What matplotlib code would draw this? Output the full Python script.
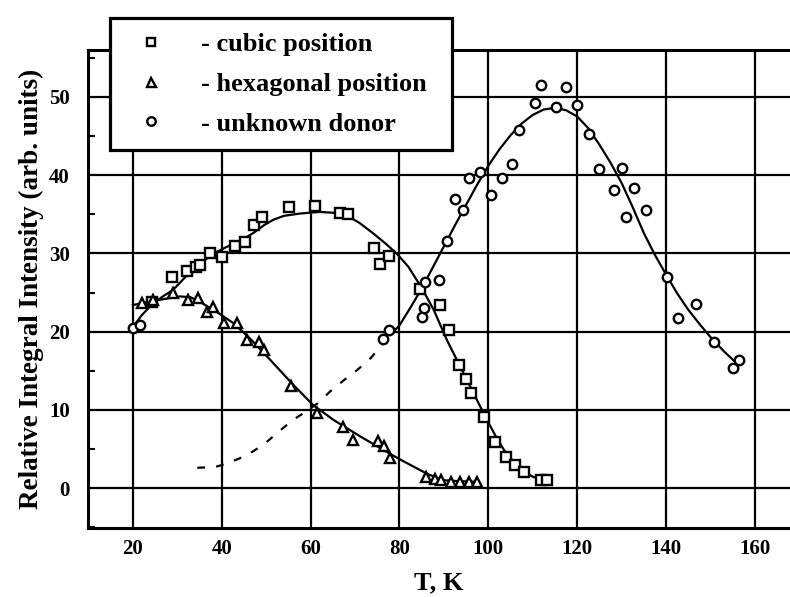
import matplotlib
matplotlib.use("Agg")
import matplotlib.pyplot as plt
from matplotlib.ticker import MultipleLocator

plt.rcParams['font.family'] = ['Liberation Serif', 'DejaVu Serif']
plt.rcParams['font.weight'] = 'bold'

# ---- data ----
cubic_T = [24.2, 28.7, 32.1, 34.2, 35.1, 37.4, 40.0, 43.0, 45.3, 47.3, 49.0, 55.2, 61.0, 66.7, 68.5,
           74.2, 75.7, 77.6, 84.7, 89.2, 91.1, 93.3, 94.9, 96.0, 99.0, 101.6, 103.9, 106.1, 108.0,
           111.8, 113.3]
cubic_I = [23.8, 27.0, 27.7, 28.2, 28.5, 30.1, 29.5, 30.9, 31.5, 33.6, 34.6, 35.9, 36.1, 35.2, 35.0,
           30.7, 28.6, 29.7, 25.5, 23.4, 20.2, 15.7, 13.9, 12.1, 9.1, 5.9, 4.0, 2.9, 2.1,
           1.0, 1.0]

hex_T = [22.0, 24.6, 29.1, 32.5, 34.7, 36.6, 38.1, 40.4, 43.4, 45.6, 48.3, 49.4, 55.6, 61.4, 67.4,
         69.5, 75.1, 76.6, 77.8, 86.0, 87.9, 89.4, 91.5, 93.7, 95.6, 97.5]
hex_I = [23.6, 24.0, 24.9, 24.0, 24.3, 22.5, 23.2, 21.1, 21.1, 18.9, 18.7, 17.6, 13.0, 9.6, 7.8,
         6.1, 6.0, 5.4, 3.9, 1.4, 1.2, 1.0, 0.8, 0.8, 0.8, 0.8]

donor_T = [20.0, 21.6, 76.2, 77.6, 85.1, 85.5, 85.8, 88.8, 90.7, 92.6, 94.4, 95.6, 98.2, 100.5,
           103.1, 105.4, 106.9, 110.6, 111.8, 115.2, 117.4, 120.0, 122.7, 124.9, 128.3, 130.2,
           130.9, 132.8, 135.4, 140.3, 142.6, 146.7, 150.8, 155.0, 156.5]
donor_I = [20.5, 20.8, 19.1, 20.2, 21.9, 23.0, 26.4, 26.6, 31.6, 37.0, 35.5, 39.6, 40.4, 37.5,
           39.7, 41.4, 45.8, 49.2, 51.5, 48.7, 51.3, 49.0, 45.3, 40.8, 38.1, 40.9,
           34.7, 38.3, 35.6, 27.0, 21.8, 23.5, 18.7, 15.3, 16.4]

# fitted curves
cubic_fit_T = [20, 22, 24.5, 27, 29, 31.5, 34.3, 36.5, 38.9, 41, 43, 45, 47.1, 49.5, 51.6, 54, 57.7,
               62, 65, 68, 71, 74, 77, 79.5, 82, 85, 87.7, 90.7, 93.7, 96, 98.2, 100, 101.6,
               103.5, 105.7, 108, 110.2, 113.3]
cubic_fit_I = [20.6, 22.1, 23.6, 24.6, 25.3, 26.8, 28.3, 29.3, 30.2, 30.8, 31.3, 31.9, 32.6, 33.6,
               34.3, 34.8, 35.1, 35.3, 35.2, 34.9, 33.9, 32.6, 31.2, 29.9, 28.3, 25.6, 22.8, 18.9,
               15.5, 12.9, 10.4, 8.4, 6.7, 4.9, 3.3, 2.1, 1.4, 1.2]

hex_fit_T = [20, 25.3, 30.6, 33, 35.1, 38.9, 42.6, 46.4, 50.9, 56.1, 60.6, 65.2, 71.2, 77.2, 81, 84,
             86, 88, 90, 93, 97.5]
hex_fit_I = [23.4, 24.0, 24.5, 24.4, 23.8, 22.5, 21.1, 19.1, 16.4, 13.2, 10.6, 8.7, 6.6, 4.6, 3.4,
             2.5, 1.9, 1.4, 1.0, 0.9, 0.8]

donor_dash_T = [34.5, 38.5, 41, 44, 46.5, 49.5, 53, 56, 59, 61.5, 64.5, 67.5, 70.5, 73.5, 76.5, 78]
donor_dash_I = [2.6, 2.7, 3.1, 3.8, 4.5, 5.6, 7.3, 8.7, 9.8, 10.8, 12.4, 13.8, 15.1, 16.6, 18.6, 19.6]

donor_fit_T = [78, 80, 82.5, 85, 87.5, 90, 92.5, 95, 97.5, 100, 102.5, 105, 107.5, 110, 112.5, 115,
               117.5, 120, 122.5, 125, 127.5, 130, 132.5, 135, 137.5, 140, 142.5, 145, 147.5, 150,
               153, 156]
donor_fit_I = [19.6, 20.8, 23.1, 25.5, 28.2, 30.9, 33.6, 36.2, 38.8, 41.2, 43.3, 45.1, 46.6, 47.7,
               48.4, 48.6, 48.3, 47.5, 46.0, 43.9, 41.6, 39.0, 35.9, 32.6, 29.8, 27.3, 24.9, 22.8,
               21.0, 19.3, 17.5, 15.9]

x_ticks = [20, 40, 60, 80, 100, 120, 140, 160]
y_ticks = [0, 10, 20, 30, 40, 50]
labels = ['- cubic position', '- hexagonal position', '- unknown donor']

# ---- figure ----
fig = plt.figure(figsize=(7.9, 5.97), dpi=100)
ax = fig.add_axes([88 / 790, 1 - 528 / 597, 1 - 88 / 790, (528 - 50) / 597])

ax.set_xlim(9.9, 167.9)
ax.set_ylim(-5.1, 56.0)
ax.set_xticks(x_ticks)
ax.set_yticks(y_ticks)
ax.yaxis.set_minor_locator(MultipleLocator(5))
ax.grid(True, which='major', color='black', linewidth=1.6)
ax.tick_params(which='major', length=0, labelsize=15)
ax.tick_params(axis='x', which='major', pad=8)
ax.tick_params(axis='y', which='major', pad=13)
ax.tick_params(axis='y', which='minor', direction='in', length=5, width=1.5)
for lab in ax.get_xticklabels() + ax.get_yticklabels():
    lab.set_fontweight('bold')
for side in ['left', 'bottom', 'top']:
    ax.spines[side].set_linewidth(2.2)
ax.spines['right'].set_visible(False)

lw = 1.6
ax.plot(cubic_fit_T, cubic_fit_I, color='black', lw=lw)
ax.plot(hex_fit_T, hex_fit_I, color='black', lw=lw)
ax.plot(donor_fit_T, donor_fit_I, color='black', lw=lw)
ax.plot(donor_dash_T, donor_dash_I, color='black', lw=lw, linestyle=(0, (3.5, 5)))

mk = dict(linestyle='none', markerfacecolor='white', markeredgecolor='black', markeredgewidth=1.7)
h1, = ax.plot(cubic_T, cubic_I, marker='s', markersize=6.8, **mk)
h2, = ax.plot(hex_T, hex_I, marker='^', markersize=7.2, **mk)
h3, = ax.plot(donor_T, donor_I, marker='o', markersize=6.8, **mk)

ax.set_xlabel('T, K', fontsize=19, fontweight='bold', labelpad=9)
ax.set_ylabel('Relative Integral Intensity (arb. units)', fontsize=19.5, fontweight='bold',
              labelpad=4)

x0, y1 = 110 / 790, 1 - 18 / 597
w, h = (452 - 110) / 790, (153 - 18) / 597
leg = fig.legend([h1, h2, h3], labels, loc='upper left', mode='expand',
                 bbox_to_anchor=(x0, y1 - h, w, h),
                 fontsize=19, frameon=True, fancybox=False, framealpha=1,
                 edgecolor='black', borderpad=0.55, handlelength=2.0, handletextpad=0.9,
                 labelspacing=0.62, markerscale=0.9, borderaxespad=0)
leg.get_frame().set_linewidth(2.3)
for t in leg.get_texts():
    t.set_fontweight('bold')

fig.savefig('out.png', dpi=100)
